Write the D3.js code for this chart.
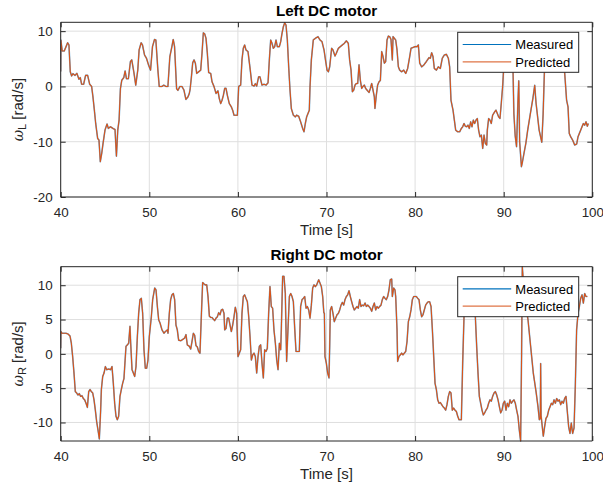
<!DOCTYPE html>
<html><head><meta charset="utf-8">
<script src="https://cdn.jsdelivr.net/npm/d3@7"></script>
<style>body{margin:0;background:#fff}svg{display:block}text{font-family:"Liberation Sans",Arial,Helvetica,sans-serif}</style>
</head><body>
<svg id="c" width="603" height="494"></svg>
<script>
// ---------- data ----------
const xTicks = [40, 50, 60, 70, 80, 90, 100];
const yTicksL = [-20, -10, 0, 10];
const yTicksR = [-10, -5, 0, 5, 10];
const seriesNames = ["Measured", "Predicted"];

const timeL = [40.00,40.02,40.17,40.40,40.63,40.78,40.93,41.08,41.23,41.38,41.61,41.83,42.06,42.21,42.36,42.59,42.81,43.04,43.27,43.49,43.64,43.80,43.95,44.17,44.32,44.47,44.63,44.78,45.00,45.23,45.38,45.61,45.91,46.13,46.29,46.44,46.59,46.74,46.89,47.12,47.27,47.42,47.64,47.87,48.02,48.25,48.47,48.70,48.85,49.08,49.23,49.46,49.68,49.91,50.14,50.36,50.59,50.74,50.97,51.12,51.42,51.64,51.87,52.10,52.32,52.55,52.70,52.85,53.08,53.23,53.46,53.68,53.91,54.13,54.36,54.51,54.60,54.74,54.90,55.05,55.20,55.35,55.57,55.80,55.95,56.10,56.25,56.40,56.55,56.70,56.93,57.08,57.30,57.53,57.75,57.90,58.06,58.21,58.36,58.51,58.66,58.81,59.03,59.26,59.41,59.56,59.79,59.94,60.09,60.31,60.46,60.61,60.76,60.91,61.14,61.37,61.59,61.82,61.97,62.12,62.34,62.49,62.72,62.95,63.17,63.40,63.55,63.70,63.85,64.00,64.15,64.30,64.45,64.68,64.83,64.98,65.13,65.28,65.43,65.58,65.73,65.88,66.03,66.26,66.48,66.63,66.86,67.08,67.31,67.46,67.61,67.76,67.91,68.06,68.14,68.29,68.51,68.74,69.04,69.27,69.49,69.72,69.94,70.06,70.21,70.36,70.58,70.73,70.96,71.11,71.34,71.56,71.79,72.01,72.24,72.46,72.61,72.77,72.92,73.07,73.22,73.37,73.52,73.67,73.82,73.97,74.12,74.27,74.42,74.57,74.80,74.95,75.10,75.25,75.40,75.47,75.62,75.77,75.93,76.08,76.23,76.38,76.53,76.68,76.83,76.98,77.13,77.28,77.43,77.51,77.66,77.81,77.96,78.11,78.26,78.48,78.71,78.94,79.16,79.39,79.54,79.76,79.99,80.22,80.37,80.52,80.74,80.97,81.27,81.57,81.72,81.87,82.02,82.17,82.40,82.62,82.85,83.07,83.30,83.53,83.75,83.90,84.05,84.28,84.43,84.58,84.81,85.03,85.22,85.37,85.52,85.67,85.82,85.97,86.12,86.27,86.42,86.57,86.72,86.87,87.02,87.17,87.32,87.48,87.63,87.78,87.93,88.08,88.15,88.30,88.45,88.60,88.75,88.98,89.13,89.28,89.43,89.58,89.73,89.88,90.00,90.20,90.50,90.80,91.05,91.15,91.30,91.45,91.60,91.70,91.80,92.00,92.10,92.30,92.50,92.70,93.00,93.30,93.50,93.65,94.00,94.30,94.45,94.60,94.80,95.30,96.00,96.60,96.88,97.10,97.26,97.40,97.56,97.78,98.01,98.24,98.39,98.54,98.69,98.84,98.99,99.14,99.29,99.44,99.55];
const omegaL = [2.7,8.4,6.4,6.4,7.3,7.9,7.5,2.65,1.9,2.3,2.0,2.35,1.3,1.6,0.4,0.4,2.0,2.0,0.4,0,-1.9,-4.3,-6.7,-9.4,-9.7,-13.6,-12.1,-10.3,-7.9,-6.8,-7.6,-7.3,-7.6,-7.8,-12.6,-7.9,-6.1,-0.4,1.1,1.6,2.8,1.4,1.4,4.5,4.8,2.65,0.24,2.95,6.6,7.9,7.5,5.7,5.1,3.9,2.95,7.2,8.5,8.4,2.95,0,0,0.24,0,0,5.4,7.2,8.5,7.2,-0.4,-0.7,0,0,-0.66,-2.35,-1.9,-1.3,-0.6,1.5,4.3,4.8,4.2,2.35,2.65,2.95,6.0,9.7,9.5,8.7,6.0,2.5,2.35,0.84,0,-1.27,-0.8,-2.2,-3.1,-2.5,-1.6,-0.36,-0.36,-1.6,-3.1,-3.7,-4.3,-5.2,-5.2,-5.2,0,0.24,4.8,6.9,7.5,6.6,6.3,3.3,0.24,0.06,0.5,0.06,1.75,1.75,0.24,0.4,0.24,0.66,4.8,8.4,7.8,6.9,7.2,8.4,7.2,7.2,8.1,9.6,10.8,11.5,11.1,8.4,3.6,-0.66,-4.0,-5.2,-5.5,-5.2,-5.4,-6.4,-7.6,-8.2,-6.7,-5.5,-4.9,-4.3,0,4.8,8.4,8.7,9.0,8.4,8.1,6.6,4.2,2.95,2.65,3.55,6.9,6.6,5.5,6.0,6.9,7.2,7.5,7.8,8.25,7.8,4.8,2.95,-0.96,-0.66,0.24,0.54,0.54,3.9,1.1,-0.36,0,0.24,-0.36,-0.66,-1.1,-0.36,0.54,-0.66,-1.9,-4.0,-1.6,0.24,0.84,1.1,6.3,5.4,4.2,4.5,8.4,9.1,9.0,8.5,4.8,9.0,8.7,8.4,6.6,3.55,2.95,2.65,2.95,2.35,3.25,5.4,6.9,7.05,7.2,7.2,7.5,4.2,3.55,3.85,4.5,5.2,5.1,6.1,5.4,3.25,2.95,3.55,3.25,5.1,5.7,5.8,5.1,3.55,-2.5,-4.3,-6.1,-7.9,-8.2,-8.2,-7.6,-7.3,-6.7,-7.2,-7.3,-7.0,-7.6,-6.4,-7.3,-6.1,-6.7,-6.1,-5.8,-7.9,-9.1,-8.8,-11.2,-8.8,-10.3,-10.6,-7.9,-5.8,-6.1,-6.7,-5.2,-4.6,-4.3,-4.9,-5.5,-5.8,-3.0,0,3.5,7.0,8.5,7.0,3.0,-5.0,-9.0,-10.9,-3.0,1.0,-10.0,-14.5,-13.8,-12.0,-10.3,-8.0,-5.0,-2.1,0.2,-3.0,-7.9,-10.1,-5.0,3.0,7.0,8.5,9.0,7.5,2.5,-2.5,-3.7,-8.5,-9.1,-9.7,-10.6,-10.4,-9.1,-8.5,-7.9,-7.3,-6.7,-7.0,-6.4,-7.2,-6.7];

const timeR = [40.00,40.02,40.15,40.37,40.60,40.82,41.05,41.20,41.35,41.50,41.65,41.80,41.95,42.10,42.25,42.40,42.55,42.70,42.86,43.01,43.16,43.31,43.46,43.61,43.76,43.91,44.06,44.21,44.36,44.51,44.59,44.74,44.89,45.04,45.19,45.41,45.64,45.79,45.94,46.09,46.24,46.39,46.54,46.69,46.84,46.99,47.14,47.37,47.52,47.67,47.82,47.90,48.05,48.20,48.35,48.50,48.65,48.80,48.95,49.10,49.25,49.40,49.55,49.70,49.85,50.00,50.23,50.38,50.61,50.76,50.91,51.06,51.21,51.43,51.66,51.81,52.04,52.11,52.26,52.41,52.56,52.71,52.86,53.01,53.16,53.31,53.54,53.77,53.99,54.14,54.29,54.52,54.67,54.82,54.97,55.12,55.27,55.42,55.57,55.72,55.87,56.02,56.17,56.32,56.48,56.63,56.78,56.93,57.08,57.23,57.38,57.53,57.68,57.83,57.98,58.13,58.28,58.43,58.51,58.66,58.81,58.96,59.11,59.26,59.41,59.56,59.71,59.86,60.01,60.16,60.31,60.46,60.61,60.76,60.91,61.07,61.22,61.37,61.52,61.67,61.82,61.97,62.12,62.27,62.42,62.57,62.72,62.87,63.02,63.17,63.32,63.47,63.62,63.77,63.92,64.07,64.23,64.38,64.53,64.68,64.83,64.90,65.05,65.20,65.35,65.50,65.65,65.81,65.96,66.11,66.26,66.41,66.56,66.71,66.93,67.08,67.24,67.39,67.54,67.69,67.84,67.99,68.14,68.29,68.44,68.59,68.74,68.89,69.12,69.27,69.42,69.57,69.70,69.76,69.83,69.98,70.13,70.28,70.36,70.43,70.58,70.73,70.88,71.03,71.19,71.34,71.49,71.64,71.79,71.94,72.09,72.24,72.39,72.54,72.69,72.84,72.99,73.14,73.29,73.44,73.59,73.74,73.89,74.04,74.19,74.35,74.50,74.65,74.80,74.95,75.10,75.25,75.40,75.55,75.70,75.85,76.00,76.15,76.30,76.45,76.60,76.75,76.90,77.05,77.20,77.36,77.43,77.58,77.73,77.81,77.96,78.03,78.18,78.33,78.48,78.63,78.78,78.94,79.09,79.24,79.39,79.54,79.69,79.84,79.99,80.14,80.29,80.44,80.59,80.74,80.89,81.04,81.19,81.34,81.49,81.64,81.80,81.95,82.10,82.25,82.40,82.55,82.70,82.85,83.00,83.15,83.30,83.45,83.60,83.75,83.90,84.05,84.20,84.35,84.50,84.66,84.81,84.96,85.11,85.22,85.37,85.52,85.70,86.10,86.50,86.80,86.95,87.10,87.25,87.40,87.55,87.70,87.85,88.00,88.15,88.30,88.45,88.60,88.75,88.91,89.06,89.21,89.36,89.51,89.66,89.81,89.96,90.11,90.26,90.41,90.56,90.71,90.86,91.01,91.16,91.31,91.46,91.61,91.76,91.91,92.02,92.10,92.25,92.45,92.74,93.04,93.34,93.65,93.87,94.02,94.13,94.17,94.22,94.47,94.62,94.77,94.92,95.08,95.23,95.38,95.53,95.68,95.83,95.98,96.13,96.28,96.43,96.58,96.73,96.88,97.03,97.18,97.33,97.48,97.63,97.78,97.94,98.08,98.23,98.39,98.54,98.69,98.84,98.99,99.14,99.29,99.44,99.55];
const omegaR = [0.83,3.25,3.0,3.0,3.0,2.9,2.6,1.55,-0.4,-2.8,-5.5,-5.7,-6.0,-5.8,-6.2,-6.1,-6.5,-6.7,-7.2,-7.8,-5.5,-5.2,-5.5,-5.7,-6.7,-8.2,-9.9,-11.1,-12.4,-8.2,-5.2,-3.3,-2.8,-1.85,-2.3,-2.2,-2.3,-1.85,-4.3,-7.2,-9.1,-9.6,-9.1,-6.2,-5.2,-4.3,-3.6,1.1,1.3,1.55,4.0,1.55,-2.3,-2.8,-3.3,-1.85,2.5,5.9,7.9,8.1,5.9,0.6,-2.1,-2.1,-0.9,2.5,5.4,7.9,9.6,9.3,6.9,4.95,4.5,3.5,3.0,3.25,3.5,3.0,5.9,7.9,8.6,8.8,7.9,4.2,3.5,2.0,1.9,2.1,2.3,2.8,1.3,1.1,0.7,1.8,3.0,2.7,1.2,1.0,0.35,0.1,5.4,10.4,10.2,10.05,10.05,8.3,5.5,5.3,5.3,5.05,4.85,5.2,5.4,6.0,5.7,6.4,6.5,5.9,3.5,3.7,5.2,5.2,4.2,3.25,4.2,5.4,6.8,5.9,-0.4,0.1,0.6,5.9,8.35,8.6,8.1,7.6,5.4,2.5,-0.9,-0.15,0.1,-0.4,-2.8,-0.4,1.1,1.3,-1.35,-3.5,0.6,0.35,0.8,5.9,9.8,6.9,6.65,3.5,1.55,-0.9,-2.3,1.55,0.6,3.5,11.3,11.3,8.8,-1.1,3.5,8.35,8.8,8.35,7.6,3.75,0.35,0.35,0.35,6.9,7.9,8.1,8.35,6.65,6.9,6.4,5.2,7.1,9.6,10.05,9.8,10.05,10.8,10.3,9.8,8.35,6.0,5.9,-0.4,-1.35,-2.8,-3.5,1.1,6.4,6.9,5.9,4.7,5.2,5.7,5.9,6.4,7.1,7.5,7.1,7.9,8.35,8.6,9.2,8.35,7.6,6.9,6.4,6.65,6.9,6.65,7.9,6.9,7.1,7.0,7.4,6.9,7.1,6.9,6.65,6.2,6.9,7.4,6.4,6.9,6.65,6.9,7.1,7.9,8.35,8.1,7.9,8.35,9.3,10.8,10.9,8.35,9.6,9.3,8.35,3.5,-1.1,-0.4,-0.15,0.1,-0.15,0.1,0.35,1.8,4.7,5.4,6.4,7.9,8.35,8.35,8.35,8.1,7.9,6.4,5.4,5.7,6.4,7.1,7.4,7.6,7.6,6.9,3.5,-0.4,-4.3,-5.2,-6.7,-7.2,-7.1,-7.4,-7.7,-7.9,-8.2,-7.4,-6.2,-5.5,-5.7,-8.2,-7.9,-8.2,-8.4,-9.1,-9.6,-9.6,-9.6,-1.35,5.4,9.0,10.0,9.0,5.4,1.1,-2.8,-6.2,-7.2,-8.2,-8.9,-8.6,-8.2,-7.9,-7.2,-6.7,-6.9,-6.2,-5.7,-5.5,-6.0,-6.7,-7.7,-8.6,-8.2,-7.2,-6.9,-8.2,-7.2,-7.7,-6.7,-7.2,-6.9,-6.7,-7.2,-8.2,-9.1,-11.1,-12.7,0,12.7,10.0,7.5,5.0,1.1,-2.8,-5.5,-7.7,-9.6,-9.4,-1.4,-9.0,-12.0,-10.6,-9.4,-9.1,-8.2,-7.7,-7.2,-7.4,-6.7,-7.2,-6.5,-6.9,-6.7,-7.4,-6.9,-7.2,-6.5,-6.2,-8.4,-10.6,-11.6,-10.1,-11.6,-10.8,-4.8,3.5,5.9,6.9,8.1,8.6,7.4,8.8,8.35,8.35];

// predicted response overlays the measured one within line width at this scale
const measuredL = omegaL, predictedL = omegaL.slice();
const measuredR = omegaR, predictedR = omegaR.slice();

// ---------- drawing ----------
const svg = d3.select("#c");
const colors = ["#0072BD", "#D95319"];
const axCol = "#262626", gridCol = "#dfdfdf";
const x0 = 60.7, x1 = 592.3;
const fmt = d => String(d);

function panel(cfg) {
  const x = d3.scaleLinear().domain([40, 100]).range([x0, x1]);
  const y = d3.scaleLinear().domain(cfg.yDomain).range([cfg.bottom, cfg.top]);
  const g = svg.append("g");
  g.append("g").selectAll("line").data(xTicks).join("line")
    .attr("x1", d => x(d)).attr("x2", d => x(d)).attr("y1", cfg.top).attr("y2", cfg.bottom)
    .attr("stroke", gridCol).attr("stroke-width", 1);
  g.append("g").selectAll("line").data(cfg.yTicks).join("line")
    .attr("x1", x0).attr("x2", x1).attr("y1", d => y(d)).attr("y2", d => y(d))
    .attr("stroke", gridCol).attr("stroke-width", 1);
  const cid = "clip" + cfg.id;
  svg.append("clipPath").attr("id", cid).append("rect")
    .attr("x", x0).attr("y", cfg.top - 1).attr("width", x1 - x0).attr("height", cfg.bottom - cfg.top + 2);
  const line = d3.line().x(d => x(d[0])).y(d => y(d[1]));
  const lg = g.append("g").attr("clip-path", `url(#${cid})`);
  [cfg.meas, cfg.pred].forEach((vals, i) => {
    lg.append("path").datum(cfg.time.map((t, k) => [t, vals[k]]))
      .attr("d", line).attr("fill", "none").attr("stroke", colors[i])
      .attr("stroke-width", i === 0 ? 1.6 : 1.1).attr("stroke-linejoin", "round")
      .attr("opacity", i === 0 ? 0.6 : 1);
  });
  const fs = "13.4px";
  const ax = g.append("g").attr("transform", `translate(0,${cfg.bottom})`)
    .call(d3.axisBottom(x).tickValues(xTicks).tickSize(-5).tickPadding(10).tickFormat(fmt));
  const at = g.append("g").attr("transform", `translate(0,${cfg.top})`)
    .call(d3.axisTop(x).tickValues(xTicks).tickSize(-5).tickFormat(""));
  const ay = g.append("g").attr("transform", `translate(${x0},0)`)
    .call(d3.axisLeft(y).tickValues(cfg.yTicks).tickSize(-5).tickPadding(8).tickFormat(fmt));
  const ar = g.append("g").attr("transform", `translate(${x1},0)`)
    .call(d3.axisRight(y).tickValues(cfg.yTicks).tickSize(-5).tickFormat(""));
  [ax, at, ay, ar].forEach(a => {
    a.select(".domain").attr("stroke", axCol).attr("stroke-width", 1);
    a.selectAll(".tick line").attr("stroke", axCol).attr("stroke-width", 1);
    a.selectAll("text").attr("fill", axCol).style("font-size", fs)
      .style("font-family", '"Liberation Sans",Arial,sans-serif');
  });
  ay.select(".domain").attr("d", `M-0,${cfg.top}V${cfg.bottom}`);
  ar.select(".domain").attr("d", `M0,${cfg.top}V${cfg.bottom}`);
  ax.select(".domain").attr("d", `M${x0},0H${x1}`);
  at.select(".domain").attr("d", `M${x0},0H${x1}`);
  g.append("text").attr("x", (x0 + x1) / 2).attr("y", cfg.top - 6.5)
    .attr("text-anchor", "middle").attr("font-weight", "bold").attr("font-size", "15.2px")
    .attr("fill", "#000").text(cfg.title);
  g.append("text").attr("x", (x0 + x1) / 2).attr("y", cfg.bottom + 37.5)
    .attr("text-anchor", "middle").attr("font-size", "15px").attr("fill", axCol).text("Time [s]");
  const yl = g.append("text").attr("transform", `translate(23,${(cfg.top + cfg.bottom) / 2}) rotate(-90)`)
    .attr("text-anchor", "middle").attr("font-size", "15px").attr("fill", axCol);
  yl.append("tspan").attr("font-style", "italic").attr("font-family", '"DejaVu Serif",serif').attr("font-size", "14px").text("ω");
  yl.append("tspan").attr("font-size", "11px").attr("dy", 3).text(cfg.sub);
  yl.append("tspan").attr("dy", -3).text(" [rad/s]");
  const L = g.append("g");
  const lx = 457.7, ly = cfg.top + 10, lw = 121, lh = 40;
  L.append("rect").attr("x", lx).attr("y", ly).attr("width", lw).attr("height", lh)
    .attr("fill", "#fff").attr("stroke", axCol).attr("stroke-width", 1);
  seriesNames.forEach((nm, i) => {
    const yy = ly + 12.2 + i * 17.3;
    L.append("line").attr("x1", lx + 5).attr("x2", lx + 53.5).attr("y1", yy).attr("y2", yy)
      .attr("stroke", colors[i]).attr("stroke-width", 1.2).attr("opacity", i === 1 ? 0.8 : 1);
    L.append("text").attr("x", lx + 57.6).attr("y", yy + 4.7).attr("font-size", "13px")
      .attr("fill", "#000").text(nm);
  });
}

panel({id: "L", top: 22.3, bottom: 197, yDomain: [-20, 11.6], yTicks: yTicksL,
  time: timeL, meas: measuredL, pred: predictedL, title: "Left DC motor", sub: "L"});
panel({id: "R", top: 266.7, bottom: 441, yDomain: [-12.7, 12.7], yTicks: yTicksR,
  time: timeR, meas: measuredR, pred: predictedR, title: "Right DC motor", sub: "R"});
</script>
</body></html>
